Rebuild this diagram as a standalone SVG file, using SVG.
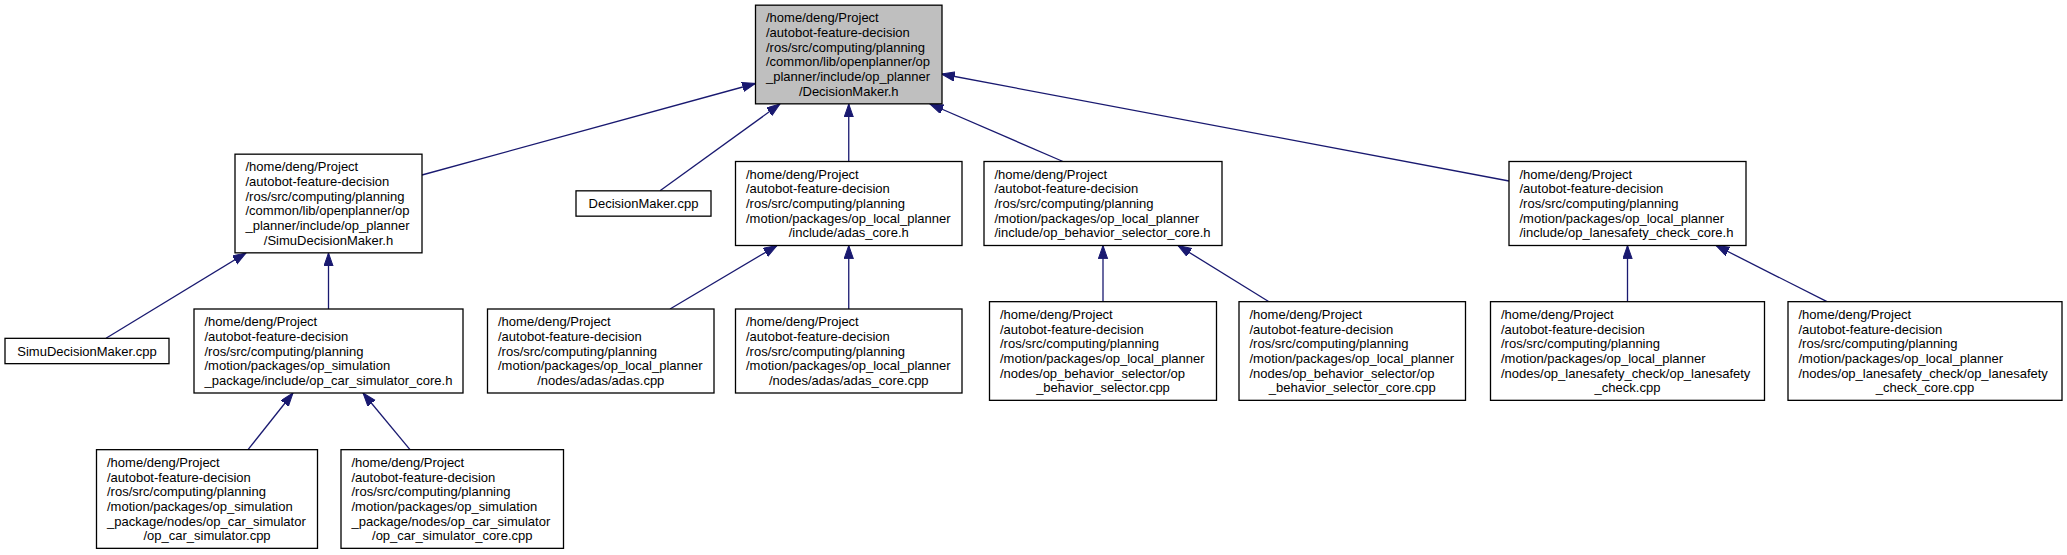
<svg xmlns="http://www.w3.org/2000/svg" width="2067" height="555" viewBox="0 0 2067 555">
<style>
.n rect{fill:#ffffff;stroke:#000000;stroke-width:1.3}
.n.root rect{fill:#bfbfbf}
text{font-family:"Liberation Sans",Arial,sans-serif;font-size:13px;fill:#000000}
.c{text-anchor:middle}
.e path{fill:none;stroke:#191970;stroke-width:1.3;marker-end:url(#ah)}
</style>
<defs>
<marker id="ah" markerWidth="15" markerHeight="11" refX="13.3" refY="4.67" orient="auto" markerUnits="userSpaceOnUse">
<path d="M0,0 L13.3,4.67 L0,9.33 z" fill="#191970" stroke="#191970" stroke-width="1"/>
</marker>
</defs>
<rect width="2067" height="555" fill="#ffffff"/>
<g id="edges" class="e">
<path d="M422,175 L755.5,83.5"/>
<path d="M660,190.8 L780,104"/>
<path d="M848.75,161.5 L848.75,104"/>
<path d="M1063,161.5 L930,104"/>
<path d="M1509,181 L941.5,74"/>
<path d="M106,338.3 L246,253"/>
<path d="M328.5,309 L328.5,253"/>
<path d="M670,309 L777,245.5"/>
<path d="M848.75,309 L848.75,245.5"/>
<path d="M1103,301.7 L1103,245.5"/>
<path d="M1269,301.7 L1178,245.5"/>
<path d="M1627.5,301.7 L1627.5,245.5"/>
<path d="M1827,301.7 L1716,245.5"/>
<path d="M248,449.7 L293,393"/>
<path d="M410,449.7 L363,393"/>
</g>
<g id="root" class="n root">
<rect x="755.5" y="5.17" width="186.5" height="98.67"/>
<text x="766" y="22.33">/home/deng/Project</text>
<text x="766" y="37">/autobot-feature-decision</text>
<text x="766" y="51.67">/ros/src/computing/planning</text>
<text x="766" y="66.33">/common/lib/openplanner/op</text>
<text x="766" y="81">_planner/include/op_planner</text>
<text class="c" x="848.75" y="95.67">/DecisionMaker.h</text>
</g>
<g id="simu_h" class="n">
<rect x="235" y="154.17" width="187" height="98.67"/>
<text x="245.5" y="171.33">/home/deng/Project</text>
<text x="245.5" y="186">/autobot-feature-decision</text>
<text x="245.5" y="200.67">/ros/src/computing/planning</text>
<text x="245.5" y="215.33">/common/lib/openplanner/op</text>
<text x="245.5" y="230">_planner/include/op_planner</text>
<text class="c" x="328.5" y="244.67">/SimuDecisionMaker.h</text>
</g>
<g id="dm_cpp" class="n">
<rect x="576" y="190.83" width="135" height="25.33"/>
<text class="c" x="643.5" y="208">DecisionMaker.cpp</text>
</g>
<g id="adas_core_h" class="n">
<rect x="735.5" y="161.5" width="226.5" height="84"/>
<text x="746" y="178.67">/home/deng/Project</text>
<text x="746" y="193.33">/autobot-feature-decision</text>
<text x="746" y="208">/ros/src/computing/planning</text>
<text x="746" y="222.67">/motion/packages/op_local_planner</text>
<text class="c" x="848.75" y="237.33">/include/adas_core.h</text>
</g>
<g id="bs_core_h" class="n">
<rect x="984" y="161.5" width="238" height="84"/>
<text x="994.5" y="178.67">/home/deng/Project</text>
<text x="994.5" y="193.33">/autobot-feature-decision</text>
<text x="994.5" y="208">/ros/src/computing/planning</text>
<text x="994.5" y="222.67">/motion/packages/op_local_planner</text>
<text x="994.5" y="237.33">/include/op_behavior_selector_core.h</text>
</g>
<g id="ls_core_h" class="n">
<rect x="1509" y="161.5" width="237" height="84"/>
<text x="1519.5" y="178.67">/home/deng/Project</text>
<text x="1519.5" y="193.33">/autobot-feature-decision</text>
<text x="1519.5" y="208">/ros/src/computing/planning</text>
<text x="1519.5" y="222.67">/motion/packages/op_local_planner</text>
<text x="1519.5" y="237.33">/include/op_lanesafety_check_core.h</text>
</g>
<g id="simu_cpp" class="n">
<rect x="5" y="338.33" width="164" height="25.33"/>
<text class="c" x="87" y="355.5">SimuDecisionMaker.cpp</text>
</g>
<g id="car_core_h" class="n">
<rect x="194" y="309" width="269" height="84"/>
<text x="204.5" y="326.17">/home/deng/Project</text>
<text x="204.5" y="340.83">/autobot-feature-decision</text>
<text x="204.5" y="355.5">/ros/src/computing/planning</text>
<text x="204.5" y="370.17">/motion/packages/op_simulation</text>
<text x="204.5" y="384.83">_package/include/op_car_simulator_core.h</text>
</g>
<g id="adas_cpp" class="n">
<rect x="487.5" y="309" width="226.5" height="84"/>
<text x="498" y="326.17">/home/deng/Project</text>
<text x="498" y="340.83">/autobot-feature-decision</text>
<text x="498" y="355.5">/ros/src/computing/planning</text>
<text x="498" y="370.17">/motion/packages/op_local_planner</text>
<text class="c" x="600.75" y="384.83">/nodes/adas/adas.cpp</text>
</g>
<g id="adas_core_cpp" class="n">
<rect x="735.5" y="309" width="226.5" height="84"/>
<text x="746" y="326.17">/home/deng/Project</text>
<text x="746" y="340.83">/autobot-feature-decision</text>
<text x="746" y="355.5">/ros/src/computing/planning</text>
<text x="746" y="370.17">/motion/packages/op_local_planner</text>
<text class="c" x="848.75" y="384.83">/nodes/adas/adas_core.cpp</text>
</g>
<g id="bs_cpp" class="n">
<rect x="989.5" y="301.67" width="227" height="98.67"/>
<text x="1000" y="318.83">/home/deng/Project</text>
<text x="1000" y="333.5">/autobot-feature-decision</text>
<text x="1000" y="348.17">/ros/src/computing/planning</text>
<text x="1000" y="362.83">/motion/packages/op_local_planner</text>
<text x="1000" y="377.5">/nodes/op_behavior_selector/op</text>
<text class="c" x="1103" y="392.17">_behavior_selector.cpp</text>
</g>
<g id="bs_core_cpp" class="n">
<rect x="1239" y="301.67" width="226.5" height="98.67"/>
<text x="1249.5" y="318.83">/home/deng/Project</text>
<text x="1249.5" y="333.5">/autobot-feature-decision</text>
<text x="1249.5" y="348.17">/ros/src/computing/planning</text>
<text x="1249.5" y="362.83">/motion/packages/op_local_planner</text>
<text x="1249.5" y="377.5">/nodes/op_behavior_selector/op</text>
<text class="c" x="1352.25" y="392.17">_behavior_selector_core.cpp</text>
</g>
<g id="ls_cpp" class="n">
<rect x="1490.5" y="301.67" width="274" height="98.67"/>
<text x="1501" y="318.83">/home/deng/Project</text>
<text x="1501" y="333.5">/autobot-feature-decision</text>
<text x="1501" y="348.17">/ros/src/computing/planning</text>
<text x="1501" y="362.83">/motion/packages/op_local_planner</text>
<text x="1501" y="377.5">/nodes/op_lanesafety_check/op_lanesafety</text>
<text class="c" x="1627.5" y="392.17">_check.cpp</text>
</g>
<g id="ls_core_cpp" class="n">
<rect x="1788" y="301.67" width="274" height="98.67"/>
<text x="1798.5" y="318.83">/home/deng/Project</text>
<text x="1798.5" y="333.5">/autobot-feature-decision</text>
<text x="1798.5" y="348.17">/ros/src/computing/planning</text>
<text x="1798.5" y="362.83">/motion/packages/op_local_planner</text>
<text x="1798.5" y="377.5">/nodes/op_lanesafety_check/op_lanesafety</text>
<text class="c" x="1925" y="392.17">_check_core.cpp</text>
</g>
<g id="car_cpp" class="n">
<rect x="96.5" y="449.67" width="221" height="98.67"/>
<text x="107" y="466.83">/home/deng/Project</text>
<text x="107" y="481.5">/autobot-feature-decision</text>
<text x="107" y="496.17">/ros/src/computing/planning</text>
<text x="107" y="510.83">/motion/packages/op_simulation</text>
<text x="107" y="525.5">_package/nodes/op_car_simulator</text>
<text class="c" x="207" y="540.17">/op_car_simulator.cpp</text>
</g>
<g id="car_core_cpp" class="n">
<rect x="341" y="449.67" width="222.5" height="98.67"/>
<text x="351.5" y="466.83">/home/deng/Project</text>
<text x="351.5" y="481.5">/autobot-feature-decision</text>
<text x="351.5" y="496.17">/ros/src/computing/planning</text>
<text x="351.5" y="510.83">/motion/packages/op_simulation</text>
<text x="351.5" y="525.5">_package/nodes/op_car_simulator</text>
<text class="c" x="452.25" y="540.17">/op_car_simulator_core.cpp</text>
</g>
</svg>
